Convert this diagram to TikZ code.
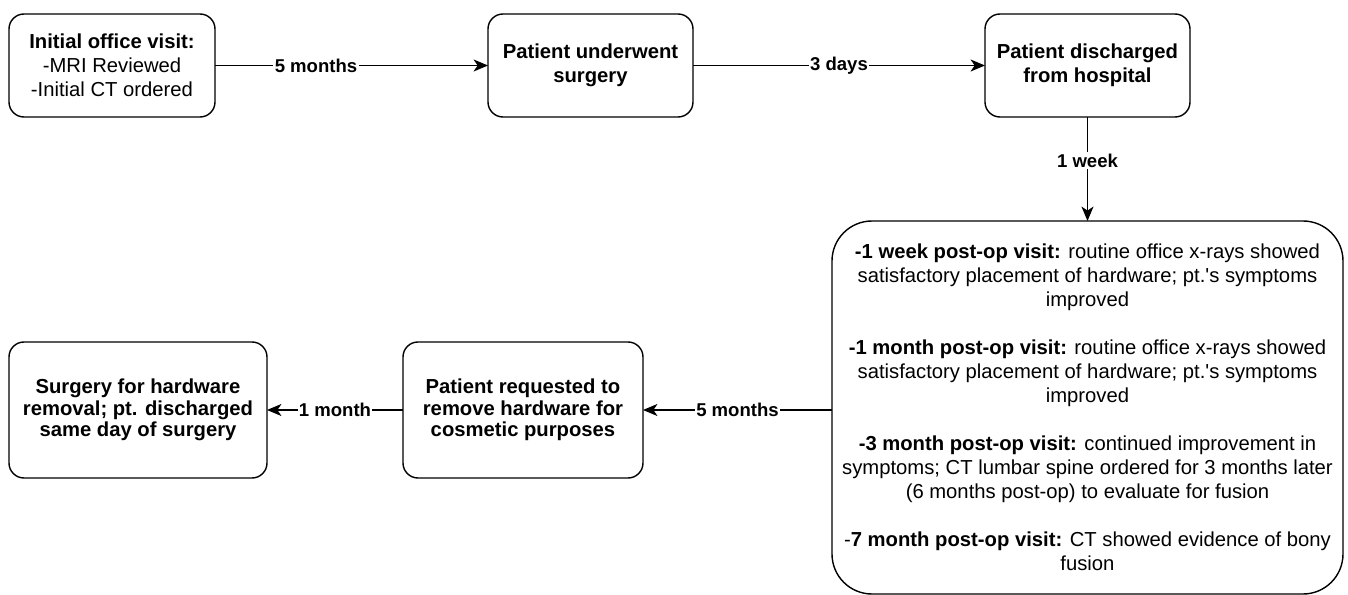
\documentclass[tikz,border=0pt]{standalone}
\usepackage{fontspec}
\setmainfont{Liberation Sans}
\usetikzlibrary{arrows.meta, positioning}

\begin{document}
\begin{tikzpicture}[
    node distance=2cm,
    event/.style={rectangle, rounded corners=0.375cm, draw=black, line width=1pt, fill=white, align=center, inner sep=0pt, outer sep=0pt, minimum width=5.125cm, minimum height=2.575cm, font=\fontsize{14.4}{17}\selectfont\bfseries},
    lowevent/.style={event, minimum height=3.4cm, font=\fontsize{14.4}{15.2}\selectfont\bfseries},
    visits/.style={event, rounded corners=1cm, minimum width=12.775cm, minimum height=9.325cm, font=\fontsize{14.4}{17.1}\selectfont},
    arrow/.style={-{Stealth[length=0.36cm, width=0.3cm, inset=0.1cm]}, line width=0.9pt},
    gap/.style={fill=white, inner sep=1pt, font=\fontsize{13.2}{15}\selectfont\bfseries}
]
    \useasboundingbox (0,0) rectangle (33.7,-14.875);

    \node[event, minimum width=5.15cm] (initial) at (2.8,-1.6375) {Initial office visit:\\\mdseries -MRI Reviewed\\\mdseries -Initial CT ordered};
    \node[event, right=6.825cm of initial] (surgery) {Patient underwent\\surgery};
    \node[event, right=7.3cm of surgery] (discharge) {Patient discharged\\from hospital};

    \node[visits, below=2.6cm of discharge] (followup) {\textbf{-1 week post-op visit:} routine office x-rays showed\\satisfactory placement of hardware; pt.\textquotesingle s symptoms\\improved\\[0.6cm]
        \textbf{-1 month post-op visit:} routine office x-rays showed\\satisfactory placement of hardware; pt.\textquotesingle s symptoms\\improved\\[0.6cm]
        \textbf{-3 month post-op visit:} continued improvement in\\symptoms; CT lumbar spine ordered for 3 months later\\(6 months post-op) to evaluate for fusion\\[0.6cm]
        -\textbf{7 month post-op visit:} CT showed evidence of bony\\fusion};

    \node[lowevent, minimum width=6cm, left=4.725cm of followup, yshift=-0.0625cm] (request) {Patient requested to\\remove hardware for\\cosmetic purposes};
    \node[lowevent, minimum width=6.45cm, left=3.4cm of request] (removal) {Surgery for hardware\\removal; pt. discharged\\same day of surgery};

    \draw[arrow] (initial) -- node[gap, pos=0.37] {5 months} (surgery);
    \draw[arrow] (surgery) -- node[gap] {3 days} (discharge);
    \draw[arrow] (discharge) -- node[gap, pos=0.42] {1 week} (followup);
    \draw[arrow] (followup.west |- request) -- node[gap] {5 months} (request);
    \draw[arrow] (request) -- node[gap] {1 month} (removal);
\end{tikzpicture}
\end{document}
